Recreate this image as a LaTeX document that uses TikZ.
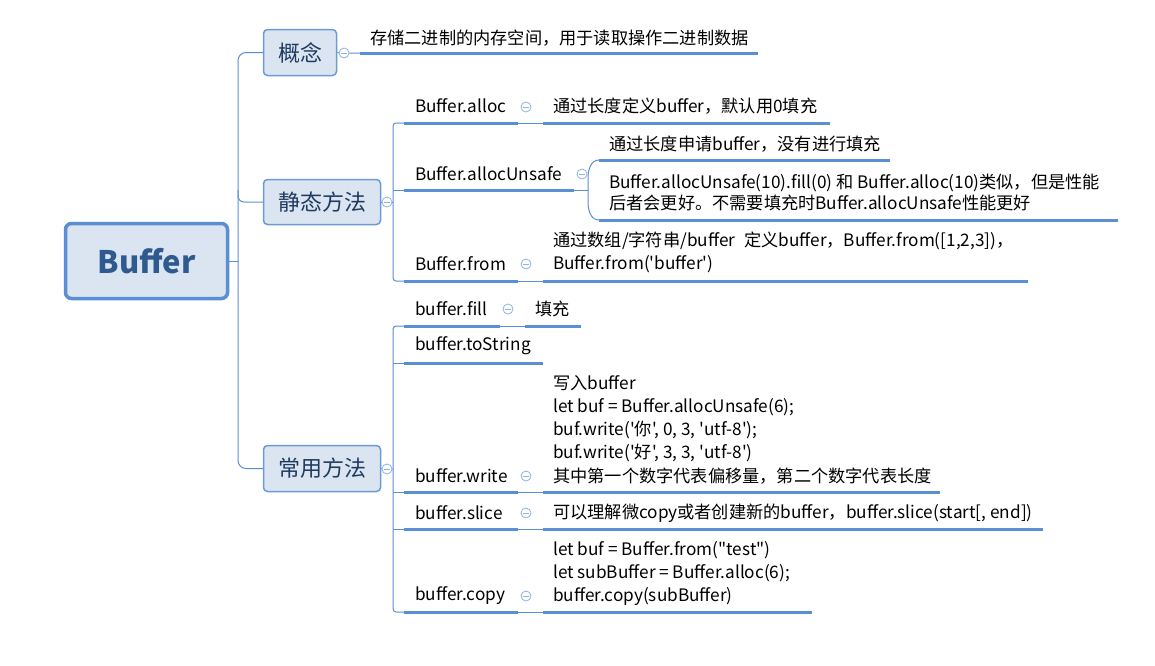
\documentclass[tikz,border=0pt]{standalone}
\usepackage{fontspec}
\setmainfont{Noto Sans CJK SC}[Ligatures=TeXOff]
\definecolor{lineblue}{HTML}{5B8FD3}
\definecolor{boxfill}{HTML}{DBE5F1}
\definecolor{boxborder}{HTML}{6A9BD6}
\definecolor{boxtext}{HTML}{1F3A5F}
\definecolor{roottext}{HTML}{2F5A8F}
\definecolor{circ}{HTML}{8DB3E2}
\tikzset{
  rootbox/.style={draw=lineblue,fill=boxfill,line width=3.5pt,rounded corners=6pt,
    minimum width=162pt,minimum height=75pt,inner sep=0pt,
    font=\fontsize{31}{36}\selectfont\bfseries,text=roottext},
  mainbox/.style={draw=boxborder,fill=boxfill,line width=1.5pt,rounded corners=4pt,
    inner sep=0pt,font=\fontsize{22}{26}\selectfont,text=boxtext},
  leaf/.style={anchor=west,inner sep=0pt,font=\fontsize{17.2}{23}\selectfont,align=left,text=black},
  conn/.style={draw=lineblue,line width=1pt},
  uline/.style={draw=lineblue,line width=3pt},
  fold/.style={circle,draw=circ,fill=white,line width=0.8pt,minimum size=10pt,inner sep=0pt,
    path picture={\draw[circ,line width=0.8pt]
      ([xshift=-3pt]path picture bounding box.center) --
      ([xshift=3pt]path picture bounding box.center);}}
}
\begin{document}
\begin{tikzpicture}[x=1pt,y=-1pt]
\useasboundingbox[fill=white] (0,0) rectangle (1155,665);

% root and main topics
\node[rootbox] (root) at (146.5,261) {Buffer};
\node[mainbox,minimum width=73pt,minimum height=46pt] (gn) at (300,52.5) {概念};
\node[mainbox,minimum width=117pt,minimum height=45pt] (jt) at (322,202) {静态方法};
\node[mainbox,minimum width=117pt,minimum height=46pt] (cy) at (322,468.5) {常用方法};

% trunk
\coordinate (tk) at (238,261);
\draw[conn] (root.east) -- (tk);
\draw[conn,rounded corners=8pt] (gn.west) -- (238,52.5) -- (238,468.5) -- (cy.west);
\draw[conn,rounded corners=6pt] (238,190) -- (238,202) -- (jt.west);

% ---- 概念
\node[fold] (f0) at (344,53) {};
\coordinate (g1) at (360,53);
\coordinate (g2) at (758,53);
\draw[conn] (gn.east) -- (f0) -- (g1);
\draw[uline] (g1) -- (g2);
\node[leaf] (gt) at (370,38) {存储二进制的内存空间，用于读取操作二进制数据};

% ---- 静态方法
\node[fold] (f1) at (387,202) {};
\coordinate (s1) at (404,123);
\coordinate (s2) at (404,190);
\coordinate (s3) at (404,281);
\draw[conn] (jt.east) -- (f1) -- (393,202);
\draw[conn,rounded corners=3pt] (s1) -- (393,123) -- (393,281) -- (s3);
\draw[conn] (393,190) -- (s2);

% Buffer.alloc
\coordinate (a1e) at (518,123);
\coordinate (a1c) at (543,123);
\coordinate (a1d) at (830,123);
\draw[uline] (s1) -- (a1e);
\node[leaf] (a1) at (415,106) {Buffer.alloc};
\node[fold] (fa1) at (526,107) {};
\draw[conn] (a1e) -- (a1c);
\draw[uline] (a1c) -- (a1d);
\node[leaf] (a1t) at (553,106) {通过长度定义buffer，默认用0填充};

% Buffer.allocUnsafe
\coordinate (a2e) at (574,190);
\coordinate (a2b) at (588,190);
\draw[uline] (s2) -- (a2e);
\node[leaf] (a2) at (415,174) {Buffer.allocUnsafe};
\node[fold] (fa2) at (582,174) {};
\draw[conn] (a2e) -- (a2b);
\coordinate (u1) at (599,160);
\coordinate (u2) at (599,220);
\draw[conn] (u1) to[out=180,in=90] (588,178) -- (588,202) to[out=270,in=180] (u2);
\coordinate (u1e) at (890,160);
\coordinate (u2e) at (1118,220);
\draw[uline] (u1) -- (u1e);
\draw[uline] (u2) -- (u2e);
\node[leaf] (u1t) at (609,144) {通过长度申请buffer，没有进行填充};
\node[leaf,font=\fontsize{17.2}{21}\selectfont] (u2t) at (609,192.5)
  {Buffer.allocUnsafe(10).fill(0) 和 Buffer.alloc(10)类似，但是性能\\后者会更好。不需要填充时Buffer.allocUnsafe性能更好};

% Buffer.from
\coordinate (a3e) at (518,281);
\coordinate (a3c) at (543,281);
\coordinate (a3d) at (1028,281);
\draw[uline] (s3) -- (a3e);
\node[leaf] (a3) at (415,264) {Buffer.from};
\node[fold] (fa3) at (526,264) {};
\draw[conn] (a3e) -- (a3c);
\draw[uline] (a3c) -- (a3d);
\node[leaf] (a3t) at (553,252.5)
  {通过数组/字符串/buffer\hspace{9pt}定义buffer，Buffer.from([1,2,3])，\\Buffer.from('buffer')};

% ---- 常用方法
\node[fold] (f2) at (387,469) {};
\coordinate (m1) at (404,326);
\coordinate (m2) at (404,363);
\coordinate (m3) at (404,492);
\coordinate (m4) at (404,529);
\coordinate (m5) at (404,612);
\draw[conn] (cy.east) -- (f2) -- (393,469);
\draw[conn,rounded corners=3pt] (m1) -- (393,326) -- (393,612) -- (m5);
\draw[conn] (393,363) -- (m2);
\draw[conn] (393,492) -- (m3);
\draw[conn] (393,529) -- (m4);

% buffer.fill
\coordinate (b1e) at (500,326);
\coordinate (b1c) at (525,326);
\coordinate (b1d) at (581,326);
\draw[uline] (m1) -- (b1e);
\node[leaf] (b1) at (415,309) {buffer.fill};
\node[fold] (fb1) at (508,309) {};
\draw[conn] (b1e) -- (b1c);
\draw[uline] (b1c) -- (b1d);
\node[leaf] (b1t) at (535,309) {填充};

% buffer.toString
\coordinate (b2e) at (543,363);
\draw[uline] (m2) -- (b2e);
\node[leaf] (b2) at (415,346) {buffer.toString};

% buffer.write
\coordinate (b3e) at (518,492);
\coordinate (b3c) at (543,492);
\coordinate (b3d) at (940,492);
\draw[uline] (m3) -- (b3e);
\node[leaf] (b3) at (415,476) {buffer.write};
\node[fold] (fb3) at (526,476) {};
\draw[conn] (b3e) -- (b3c);
\draw[uline] (b3c) -- (b3d);
\node[leaf,font=\fontsize{17.2}{23.2}\selectfont] (b3t) at (553,429.5)
  {写入buffer\\let buf = Buffer.allocUnsafe(6);\\buf.write('你', 0, 3, 'utf-8');\\buf.write('好', 3, 3, 'utf-8')\\其中第一个数字代表偏移量，第二个数字代表长度};

% buffer.slice
\coordinate (b4e) at (518,529);
\coordinate (b4c) at (543,529);
\coordinate (b4d) at (1043,529);
\draw[uline] (m4) -- (b4e);
\node[leaf] (b4) at (415,513) {buffer.slice};
\node[fold] (fb4) at (526,513) {};
\draw[conn] (b4e) -- (b4c);
\draw[uline] (b4c) -- (b4d);
\node[leaf] (b4t) at (553,513) {可以理解微copy或者创建新的buffer，buffer.slice(start[, end])};

% buffer.copy
\coordinate (b5e) at (518,612);
\coordinate (b5c) at (543,612);
\coordinate (b5d) at (812,612);
\draw[uline] (m5) -- (b5e);
\node[leaf] (b5) at (415,596) {buffer.copy};
\node[fold] (fb5) at (526,596) {};
\draw[conn] (b5e) -- (b5c);
\draw[uline] (b5c) -- (b5d);
\node[leaf] (b5t) at (553,573)
  {let buf = Buffer.from("test")\\let subBuffer = Buffer.alloc(6);\\buffer.copy(subBuffer)};
\end{tikzpicture}
\end{document}
